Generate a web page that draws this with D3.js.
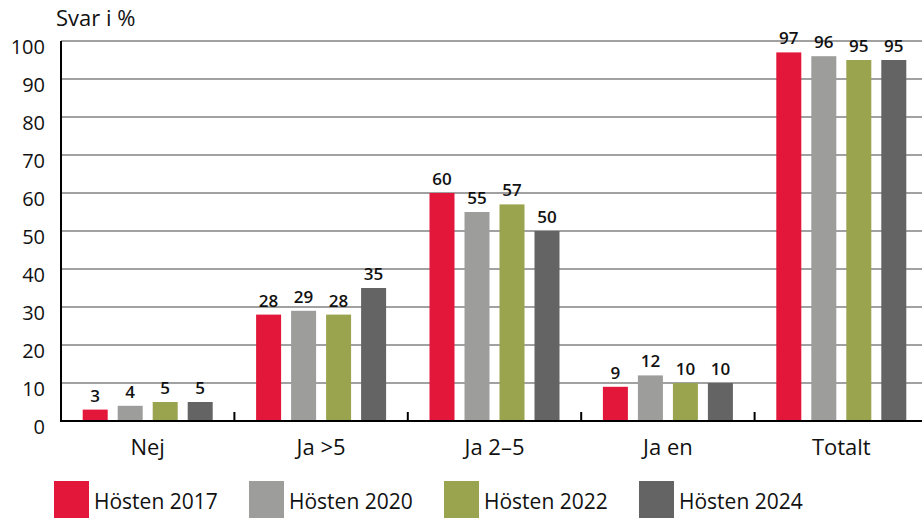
<!DOCTYPE html>
<html>
<head>
<meta charset="utf-8">
<script src="https://cdn.jsdelivr.net/npm/d3@7"></script>
<style>
  body { margin: 0; background: #fff; }
  svg text { font-family: "Open Sans", "Noto Sans", sans-serif; fill: #111; }
</style>
</head>
<body>
<div id="chart"></div>
<script>
const categories = ["Nej", "Ja >5", "Ja 2–5", "Ja en", "Totalt"];
const seriesNames = ["Hösten 2017", "Hösten 2020", "Hösten 2022", "Hösten 2024"];
const h2017 = [3, 28, 60, 9, 97];
const h2020 = [4, 29, 55, 12, 96];
const h2022 = [5, 28, 57, 10, 95];
const h2024 = [5, 35, 50, 10, 95];
const yTicks = [0, 10, 20, 30, 40, 50, 60, 70, 80, 90, 100];
const colors = ["#e3173a", "#9d9d9c", "#9aa34e", "#646464"];

const seriesValues = [h2017, h2020, h2022, h2024];

const width = 922, height = 519;
const svg = d3.select("#chart").append("svg")
    .attr("width", width).attr("height", height);

const x0 = d3.scaleBand().domain(categories).range([61, 928]);
const bw = x0.bandwidth();
const x1 = d3.scaleBand().domain(seriesNames)
    .range([(bw - 130) / 2, (bw + 130) / 2])
    .paddingInner(10 / 35);
const y = d3.scaleLinear().domain([0, 100]).range([421, 41]);

// gridlines
svg.append("g").selectAll("line").data(yTicks.filter(d => d > 0)).enter().append("line")
    .attr("x1", 61).attr("x2", width)
    .attr("y1", d => y(d)).attr("y2", d => y(d))
    .attr("stroke", "#444").attr("stroke-width", 1.2);

// y tick labels
svg.append("g").selectAll("text").data(yTicks).enter().append("text")
    .attr("x", 45).attr("y", d => y(d) + 13)
    .attr("text-anchor", "end")
    .style("font-size", "20px")
    .text(d => d);

svg.append("text").attr("x", 56).attr("y", 26)
    .style("font-size", "22px").text("Svar i %");

// bars
const groups = svg.append("g").selectAll("g").data(categories).enter().append("g")
    .attr("transform", d => `translate(${x0(d)},0)`);

const cells = (c, i) => seriesNames.map((s, j) => ({s, v: seriesValues[j][i], j}));

groups.selectAll("rect").data(cells)
    .enter().append("rect")
    .attr("x", d => x1(d.s))
    .attr("width", x1.bandwidth())
    .attr("y", d => y(d.v))
    .attr("height", d => y(0) - y(d.v))
    .attr("fill", d => colors[d.j]);

groups.selectAll("text").data(cells)
    .enter().append("text")
    .attr("x", d => x1(d.s) + x1.bandwidth() / 2)
    .attr("y", d => y(d.v) - 8)
    .attr("text-anchor", "middle")
    .style("font-size", "17px").style("font-weight", 600)
    .text(d => d.v);

// axes
svg.append("line").attr("x1", 61).attr("x2", 61).attr("y1", 41).attr("y2", 422)
    .attr("stroke", "#000").attr("stroke-width", 2);
svg.append("line").attr("x1", 60).attr("x2", width).attr("y1", 421).attr("y2", 421)
    .attr("stroke", "#000").attr("stroke-width", 2.2);
svg.append("g").selectAll("line").data(categories.slice(1)).enter().append("line")
    .attr("x1", d => x0(d)).attr("x2", d => x0(d))
    .attr("y1", 421).attr("y2", 412)
    .attr("stroke", "#000").attr("stroke-width", 2);

svg.append("g").selectAll("text").data(categories).enter().append("text")
    .attr("x", d => x0(d) + bw / 2).attr("y", 455)
    .attr("text-anchor", "middle")
    .style("font-size", "22px")
    .text(d => d);

// legend
const legend = svg.append("g").selectAll("g").data(seriesNames).enter().append("g")
    .attr("transform", (d, i) => `translate(${54 + i * 195},481)`);
legend.append("rect").attr("width", 35).attr("height", 37)
    .attr("fill", (d, i) => colors[i]);
legend.append("text").attr("x", 40).attr("y", 28)
    .style("font-size", "21px").text(d => d);
</script>
</body>
</html>
